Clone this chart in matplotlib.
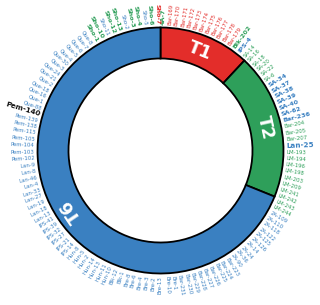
import numpy as np
import matplotlib.pyplot as plt
from matplotlib.patches import Wedge

# ring segments (clockwise from 12 o'clock)
segments = ['T1', 'T2', 'T6']
seg_span = [43, 69, 248]
seg_colors = ['#E32D2A', '#2E9F5A', '#3A80C1']

# outer labels, clockwise from the top
names = (['4A-7']
         + ['Bar-169', 'Bar-170', 'Bar-171', 'Bar-172', 'Bar-173', 'Bar-174', 'Bar-175',
            'Bar-176', 'Bar-177', 'Bar-178', 'Bar-179']
         + ['Blk-202', 'IPS-4']
         + ['SA-14', 'SA-16', 'SA-18', 'SA-20', 'SA-22', 'SA-6']
         + ['SA-34', 'SA-37', 'SA-38', 'SA-39', 'SA-40', 'SA-62', 'Bar-236']
         + ['Bar-204', 'Bar-205', 'Bar-207']
         + ['Lan-25']
         + ['LM-193', 'LM-194', 'LM-196', 'LM-198', 'LM-203', 'LM-209', 'LM-241',
            'LM-242', 'LM-243', 'LM-244']
         + ['2A-109', '2A-110', '2A-118', '2A-122', '2A-125', '2A-126', '2A-14', '2A-24',
            '2A-36', '2A-90', 'Bar-223', 'Bar-224', 'Bar-225', 'Bar-226', 'Bar-227',
            'Bar-228', 'Bar-229', 'Bar-230', 'Bar-231', 'Bre-1', 'Bre-10', 'Bre-13',
            'Bre-2', 'Bre-3', 'Bre-4', 'Bre-6', 'Bre-8', 'Blk-1', 'Blk-12', 'Hun-10',
            'Hun-11', 'Hun-13', 'Hun-14', 'Hun-2', 'Hun-5', 'Hun-8', 'IPS-14', 'IPS-21',
            'IPS-27', 'IPS-32', 'IPS-39', 'IPS-41', 'Lan-13', 'Lan-18', 'Lan-19',
            'Lan-27', 'Lan-33', 'Lan-4', 'Lan-46', 'Lan-8', 'Lan-9']
         + ['Pem-102', 'Pem-103', 'Pem-104', 'Pem-105', 'Pem-115', 'Pem-138', 'Pem-139']
         + ['Pem-140']
         + ['Que-88', 'Que-1', 'Que-16', 'Que-18', 'Que-2', 'Que-21', 'Que-24', 'Que-3',
            'Que-30', 'Que-4', 'Que-5', 'Que-6', 'Que-7', 'Que-8']
         + ['Sho-1', 'Sho-10', 'Sho-11', 'Sho-12', 'Sho-13', 'Sho-2', 'Sho-3', 'Sho-4',
            'Sho-5', 'Sho-6', 'Sho-7'])

groups = (['g'] + ['r'] * 11 + ['g', 'b'] + ['g'] * 6 + ['b'] * 7 + ['g'] * 3 + ['b']
          + ['g'] * 10 + ['b'] * 51 + ['b'] * 7 + ['k'] + ['b'] * 14
          + ['g', 'g', 'b', 'g', 'g', 'b', 'g', 'g', 'b', 'g', 'r'])

tiers = (['major'] + ['minor'] * 11 + ['major'] * 2 + ['minor'] * 6 + ['major'] * 7
         + ['minor'] * 3 + ['key'] + ['minor'] * 10 + ['minor'] * 51 + ['minor'] * 7
         + ['key'] + ['minor'] * 14
         + ['major', 'major', 'minor', 'major', 'major', 'minor', 'major', 'major',
            'minor', 'major', 'major'])

label_colors = {'g': '#2E9F5A', 'r': '#E32D2A', 'b': '#3A80C1', 'k': '#111111'}
tier_font = {'minor': 3.9, 'major': 4.6, 'key': 5.2}
tier_weight = {'minor': 'normal', 'major': 'bold', 'key': 'bold'}

W, H = 320, 305
cx, cy = 160.5, H - 150.5
r_out, r_in = 123, 92
r_lab = 126

fig = plt.figure(figsize=(W / 100, H / 100), dpi=100)
ax = fig.add_axes([0, 0, 1, 1])
ax.set_xlim(0, W)
ax.set_ylim(0, H)
ax.set_aspect('equal')
ax.axis('off')

# ring
start = 0.0
for name, span, col in zip(segments, seg_span, seg_colors):
    th1 = 90 - (start + span)
    th2 = 90 - start
    ax.add_patch(Wedge((cx, cy), r_out, th1, th2, width=r_out - r_in,
                       facecolor=col, edgecolor='black', linewidth=1.3))
    mid = start + span / 2
    phi = np.deg2rad(90 - mid)
    rm = (r_out + r_in) / 2
    ax.text(cx + rm * np.cos(phi), cy + rm * np.sin(phi), name, color='white',
            fontsize=12.5, fontweight='bold', ha='center', va='center',
            rotation=-mid, rotation_mode='anchor')
    start += span

# labels evenly spaced round the ring
n = len(names)
angles = (np.arange(n) + 0.5) * 360 / n

for lab, g, t, th in zip(names, groups, tiers, angles):
    phi = np.deg2rad(90 - th)
    x = cx + r_lab * np.cos(phi)
    y = cy + r_lab * np.sin(phi)
    if th < 180:
        rot, ha = 90 - th, 'left'
    else:
        rot, ha = 270 - th, 'right'
    ax.text(x, y, lab, color=label_colors[g], fontsize=tier_font[t],
            fontweight=tier_weight[t], ha=ha, va='center', rotation=rot,
            rotation_mode='anchor')

fig.savefig('out.png', dpi=100, facecolor='white')
